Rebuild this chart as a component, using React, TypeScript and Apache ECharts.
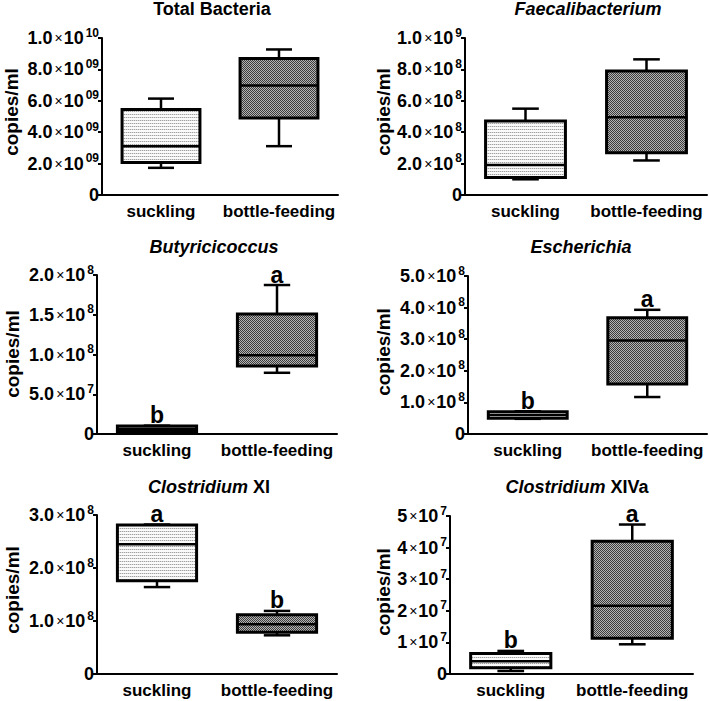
import React, { useEffect, useRef } from 'react';
import * as echarts from 'echarts';

const categories = ['suckling', 'bottle-feeding'];

// [min, Q1, median, Q3, max]
const totalBacteriaSuckling = [1.73e9, 2.07e9, 3.11e9, 5.44e9, 6.14e9];
const totalBacteriaBottle = [3.11e9, 4.91e9, 6.98e9, 8.7e9, 9.27e9];
const faecaliSuckling = [1.0e8, 1.12e8, 1.91e8, 4.72e8, 5.5e8];
const faecaliBottle = [2.2e8, 2.69e8, 4.96e8, 7.9e8, 8.64e8];
const butyriSuckling = [2.5e6, 3.0e6, 6.5e6, 1.0e7, 1.05e7];
const butyriBottle = [7.7e7, 8.55e7, 9.9e7, 1.51e8, 1.874e8];
const escheSuckling = [4.8e7, 5.0e7, 6.0e7, 7.05e7, 7.2e7];
const escheBottle = [1.17e8, 1.58e8, 2.96e8, 3.68e8, 3.93e8];
const clostXISuckling = [1.64e8, 1.76e8, 2.45e8, 2.81e8, 2.82e8];
const clostXIBottle = [7.3e7, 7.9e7, 9.4e7, 1.12e8, 1.19e8];
const clostXIVaSuckling = [9.5e5, 2.0e6, 4.0e6, 6.5e6, 7.3e6];
const clostXIVaBottle = [9.4e6, 1.13e7, 2.16e7, 4.2e7, 4.73e7];

const letters = [
  ['', ''],
  ['', ''],
  ['b', 'a'],
  ['b', 'a'],
  ['a', 'b'],
  ['b', 'a'],
];

const titles = [
  '{n|Total Bacteria}',
  '{i|Faecalibacterium}',
  '{i|Butyricicoccus}',
  '{i|Escherichia}',
  '{i|Clostridium} {n|XI}',
  '{i|Clostridium} {n|XIVa}',
];

const yMax = [1e10, 1e9, 2e8, 5e8, 3e8, 5e7];
const yInterval = [2e9, 2e8, 5e7, 1e8, 1e8, 1e7];
const tickMantissas = [
  ['0', '2.0', '4.0', '6.0', '8.0', '1.0'],
  ['0', '2.0', '4.0', '6.0', '8.0', '1.0'],
  ['0', '5.0', '1.0', '1.5', '2.0'],
  ['0', '1.0', '2.0', '3.0', '4.0', '5.0'],
  ['0', '1.0', '2.0', '3.0'],
  ['0', '1', '2', '3', '4', '5'],
];
const tickExponents = [
  ['', '09', '09', '09', '09', '10'],
  ['', '8', '8', '8', '8', '9'],
  ['', '7', '8', '8', '8'],
  ['', '8', '8', '8', '8', '8'],
  ['', '8', '8', '8'],
  ['', '7', '7', '7', '7', '7'],
];

const panelData = [
  [totalBacteriaSuckling, totalBacteriaBottle],
  [faecaliSuckling, faecaliBottle],
  [butyriSuckling, butyriBottle],
  [escheSuckling, escheBottle],
  [clostXISuckling, clostXIBottle],
  [clostXIVaSuckling, clostXIVaBottle],
];

// layout (px)
const grids = [
  { left: 102, top: 38, width: 236, height: 157 },
  { left: 465, top: 38, width: 242, height: 157 },
  { left: 97, top: 275, width: 240, height: 159 },
  { left: 468, top: 276, width: 239, height: 158 },
  { left: 97, top: 515, width: 240, height: 159 },
  { left: 450, top: 516, width: 243, height: 158 },
];
const titlePos = [
  [212, 9], [588, 9], [214, 247], [581, 247], [209, 487], [577, 487],
];
const yNamePos = [
  [11, 112], [383, 112], [12, 354], [383, 352], [12, 590], [383, 592],
];

const FONT = '"Liberation Sans", Arial, Helvetica, sans-serif';

function makePattern(cells: string[][]) {
  const h = cells.length;
  const w = cells[0].length;
  const c = document.createElement('canvas');
  c.width = w;
  c.height = h;
  const ctx = c.getContext('2d')!;
  for (let y = 0; y < h; y++) {
    for (let x = 0; x < w; x++) {
      ctx.fillStyle = cells[y][x];
      ctx.fillRect(x, y, 1, 1);
    }
  }
  return { image: c, repeat: 'repeat', imageWidth: w, imageHeight: h } as any;
}

export default function App() {
  const ref = useRef<HTMLDivElement>(null);
  useEffect(() => {
    if (!ref.current) return;
    const chart = echarts.init(ref.current, undefined, { renderer: 'svg' });
    const lightPat = makePattern([
      ['#a0a0a0', '#dcdcdc'],
      ['#fafafa', '#fafafa'],
      ['#fafafa', '#fafafa'],
    ]);
    const darkPat = makePattern([
      ['#3c3c3c', '#b4b4b4'],
      ['#b4b4b4', '#3c3c3c'],
    ]);
    const fills = [lightPat, darkPat];

    const richTick = {
      b: { fontSize: 18, fontWeight: 'bold', fontFamily: FONT, color: '#000' },
      x: { fontSize: 14, fontFamily: FONT, color: '#000', padding: [0, 1, 0, 2] },
      s: { fontSize: 12, fontWeight: 'bold', fontFamily: FONT, color: '#000', padding: [0, 0, 11, 2] },
    };

    const grid: any[] = [];
    const xAxis: any[] = [];
    const yAxis: any[] = [];
    const series: any[] = [];
    const graphic: any[] = [];

    for (let p = 0; p < 6; p++) {
      grid.push({ ...grids[p], containLabel: false });
      xAxis.push({
        type: 'category',
        gridIndex: p,
        data: categories,
        boundaryGap: true,
        axisLine: { lineStyle: { color: '#000', width: 2 } },
        axisTick: { alignWithLabel: true, length: 4, lineStyle: { color: '#000', width: 2 } },
        axisLabel: {
          color: '#000',
          fontSize: 17,
          fontWeight: 'bold',
          fontFamily: FONT,
          margin: 8,
          interval: 0,
        },
      });
      const mant = tickMantissas[p];
      const exps = tickExponents[p];
      const iv = yInterval[p];
      yAxis.push({
        type: 'value',
        gridIndex: p,
        min: 0,
        max: yMax[p],
        interval: iv,
        splitLine: { show: false },
        axisLine: { show: true, lineStyle: { color: '#000', width: 2 } },
        axisTick: { show: true, length: 4, lineStyle: { color: '#000', width: 2 } },
        axisLabel: {
          margin: 3,
          formatter: (v: number) => {
            const i = Math.round(v / iv);
            if (i === 0) return '{b|0}';
            return `{b|${mant[i]}}{x|×}{b|10}{s|${exps[i]}}`;
          },
          rich: richTick,
        },
      });
      const lt = letters[p];
      series.push({
        type: 'custom',
        xAxisIndex: p,
        yAxisIndex: p,
        encode: { x: 0, y: [1, 2, 3, 4, 5] },
        data: panelData[p].map((d, i) => [i, ...d]),
        renderItem: (params: any, api: any) => {
          const cat = api.value(0);
          const v = [1, 2, 3, 4, 5].map((k) => api.value(k));
          const band = api.size([1, 0])[0];
          const boxW = band * 0.66;
          const capW = band * 0.22;
          const pts = v.map((val: number) => api.coord([cat, val]));
          const cx = pts[2][0];
          const yMin = pts[0][1];
          const yQ1 = pts[1][1];
          const yMed = pts[2][1];
          const yQ3 = pts[3][1];
          const yMx = pts[4][1];
          const stroke = { stroke: '#000', lineWidth: 2.5 };
          const children: any[] = [
            { type: 'line', shape: { x1: cx, y1: yQ3, x2: cx, y2: yMx }, style: stroke },
            { type: 'line', shape: { x1: cx - capW / 2, y1: yMx, x2: cx + capW / 2, y2: yMx }, style: stroke },
            { type: 'line', shape: { x1: cx, y1: yQ1, x2: cx, y2: yMin }, style: stroke },
            { type: 'line', shape: { x1: cx - capW / 2, y1: yMin, x2: cx + capW / 2, y2: yMin }, style: stroke },
            {
              type: 'rect',
              shape: { x: cx - boxW / 2, y: yQ3, width: boxW, height: yQ1 - yQ3 },
              style: { fill: fills[params.dataIndex], stroke: '#000', lineWidth: 3 },
            },
            { type: 'line', shape: { x1: cx - boxW / 2, y1: yMed, x2: cx + boxW / 2, y2: yMed }, style: { stroke: '#000', lineWidth: 2.5 } },
          ];
          const letter = lt[params.dataIndex];
          if (letter) {
            children.push({
              type: 'text',
              x: cx,
              y: yMx + 1,
              style: {
                text: letter,
                fill: '#000',
                font: `bold 23px ${FONT}`,
                align: 'center',
                verticalAlign: 'bottom',
              },
            });
          }
          return { type: 'group', children };
        },
      });

      graphic.push({
        type: 'text',
        x: titlePos[p][0],
        y: titlePos[p][1],
        style: {
          text: titles[p],
          align: 'center',
          verticalAlign: 'middle',
          fill: '#000',
          font: `bold 18px ${FONT}`,
          rich: {
            n: { fontSize: 18, fontWeight: 'bold', fontFamily: FONT, fill: '#000' },
            i: { fontSize: 18, fontWeight: 'bold', fontStyle: 'italic', fontFamily: FONT, fill: '#000' },
          },
        },
      });
      graphic.push({
        type: 'text',
        x: yNamePos[p][0],
        y: yNamePos[p][1],
        rotation: Math.PI / 2,
        style: {
          text: 'copies/ml',
          align: 'center',
          verticalAlign: 'middle',
          fill: '#000',
          font: `bold 19px ${FONT}`,
        },
      });
    }

    chart.setOption({
      animation: false,
      backgroundColor: '#fff',
      grid,
      xAxis,
      yAxis,
      series,
      graphic,
    });
    return () => chart.dispose();
  }, []);

  return (
    <div
      ref={ref}
      style={{ position: 'fixed', left: 0, top: 0, width: 709, height: 701, background: '#fff' }}
    />
  );
}
